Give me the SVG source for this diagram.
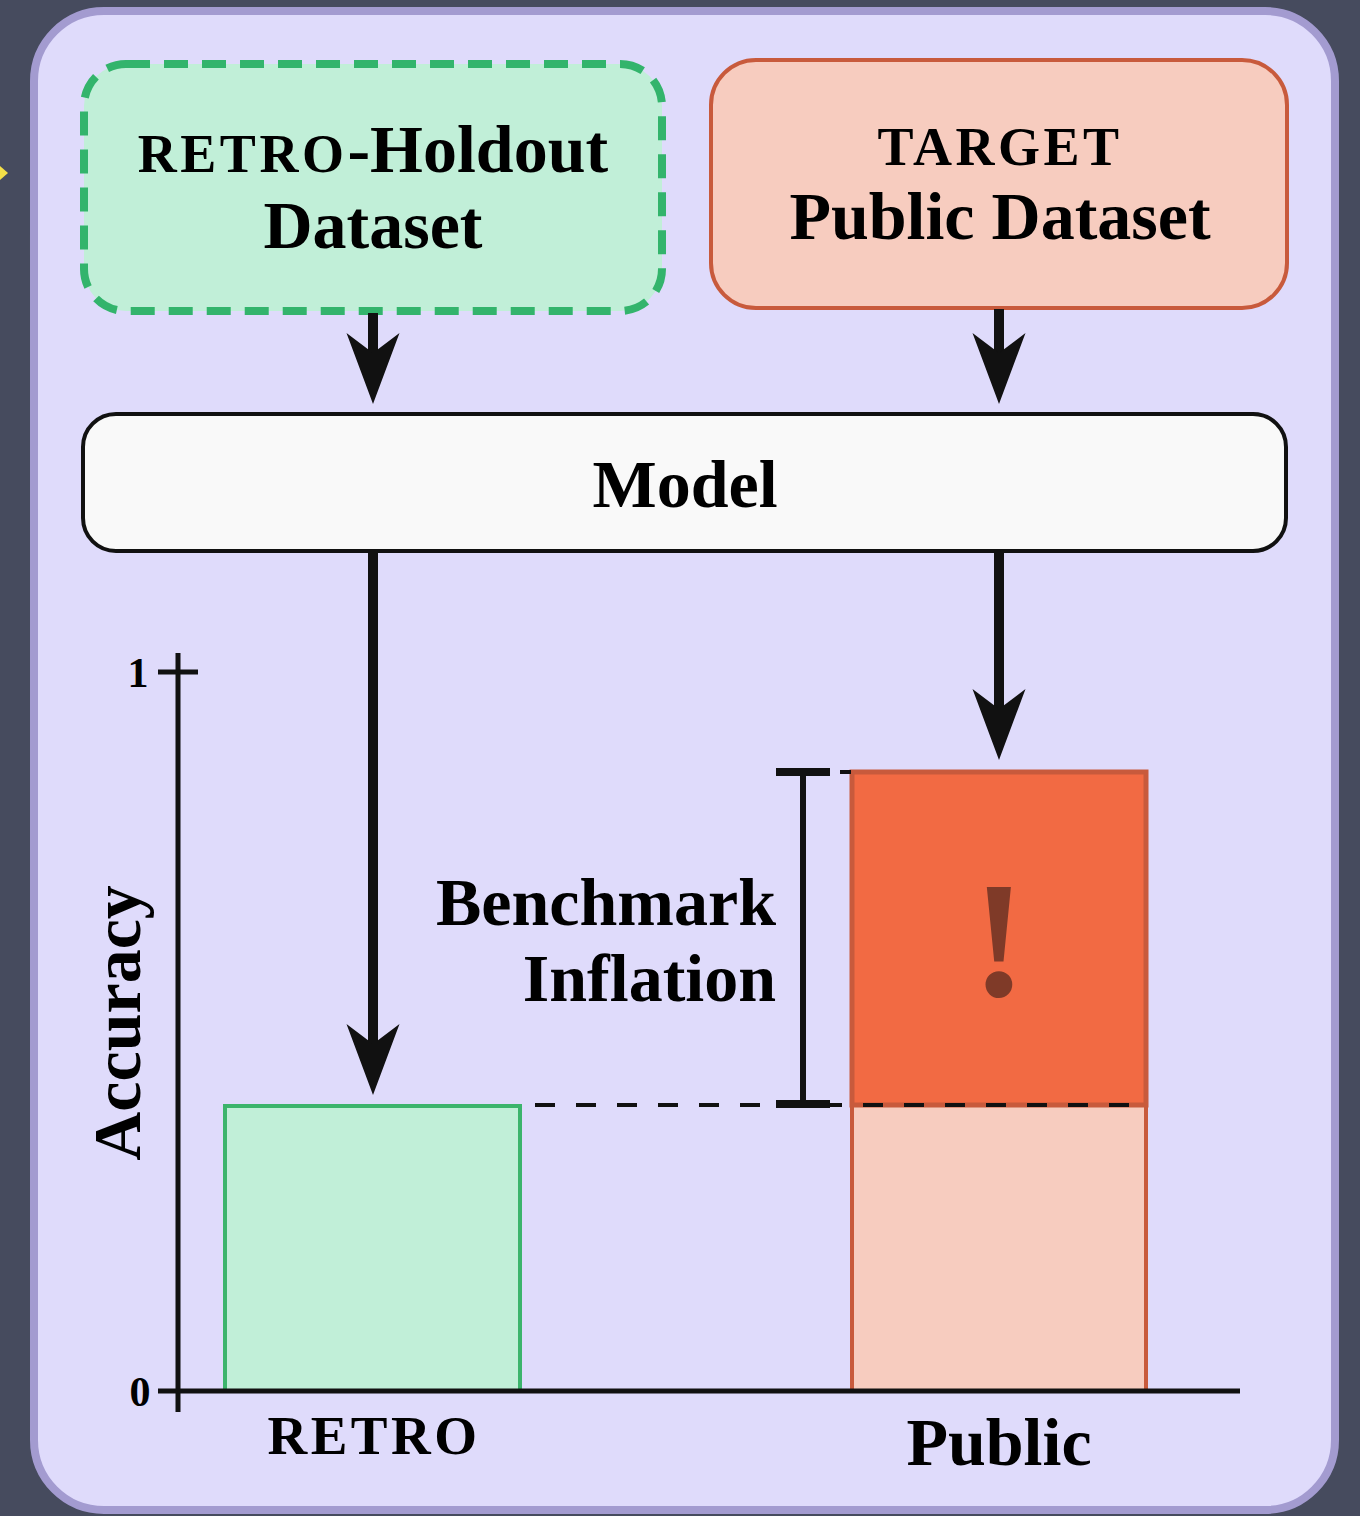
<svg xmlns="http://www.w3.org/2000/svg" width="1360" height="1516" viewBox="0 0 1360 1516">
<style>
.t{font-family:"Liberation Serif","Times New Roman",serif;font-weight:bold;fill:#000}
.big{font-size:68px}
.sc{font-size:54px;letter-spacing:3.5px}
.num{font-size:42px}
.conn{stroke:#111;stroke-width:10;fill:none}
.axis{stroke:#111;stroke-width:5;fill:none}
</style>
<defs>
<marker id="ah" markerUnits="userSpaceOnUse" viewBox="0 -27 72 54" markerWidth="72" markerHeight="54" refX="20" refY="0" orient="auto">
<path d="M71,0 L0,-26.5 L20,0 L0,26.5 Z" fill="#111"/>
</marker>
</defs>
<rect x="0" y="0" width="1360" height="1516" fill="#464b5e"/>
<polygon points="0,166 8,173 0,180" fill="#f5e048"/>
<rect x="34" y="11" width="1301" height="1499" rx="70" fill="#dfdbfb" stroke="#a39bd0" stroke-width="8"/>

<g id="retro-holdout">
<rect x="84" y="64" width="578" height="247" rx="42" fill="#c1efd8" stroke="#33b46c" stroke-width="8" stroke-dasharray="24 14"/>
<text class="t" x="373" y="172" text-anchor="middle"><tspan class="sc">RETRO</tspan><tspan class="big">-Holdout</tspan></text>
<text class="t big" x="373" y="248" text-anchor="middle">Dataset</text>
</g>

<g id="target-public">
<rect x="711" y="60" width="576" height="248" rx="45" fill="#f7ccbf" stroke="#c85a3c" stroke-width="4"/>
<text class="t sc" x="1000" y="165" text-anchor="middle">TARGET</text>
<text class="t big" x="1000" y="239" text-anchor="middle">Public Dataset</text>
</g>

<g id="model">
<rect x="83" y="414" width="1203" height="137" rx="33" fill="#f9f9f9" stroke="#111" stroke-width="4"/>
<text class="t big" x="685" y="507" text-anchor="middle">Model</text>
</g>

<g id="connectors">
<line class="conn" x1="373" y1="313" x2="373" y2="353" marker-end="url(#ah)"/>
<line class="conn" x1="999" y1="309" x2="999" y2="353" marker-end="url(#ah)"/>
<line class="conn" x1="373" y1="552" x2="373" y2="1044" marker-end="url(#ah)"/>
<line class="conn" x1="999" y1="552" x2="999" y2="709" marker-end="url(#ah)"/>
</g>

<g id="chart">
<line class="axis" x1="178" y1="653" x2="178" y2="1412"/>
<line class="axis" x1="158" y1="672" x2="198" y2="672"/>
<text class="t num" x="138" y="687" text-anchor="middle">1</text>
<text class="t num" x="140" y="1406" text-anchor="middle">0</text>
<text class="t big" transform="translate(140,1023) rotate(-90)" text-anchor="middle">Accuracy</text>
</g>

<g id="retro-bar">
<rect x="225" y="1106" width="295" height="285" fill="#c1efd8" stroke="#3cb46c" stroke-width="4"/>
<text class="t sc" x="374" y="1454" text-anchor="middle" style="font-size:55px">RETRO</text>
</g>

<g id="public-bar">
<rect x="852" y="1105" width="294" height="286" fill="#f7ccbf" stroke="#c85a3c" stroke-width="4"/>
<rect x="852" y="772" width="294" height="333" fill="#f26a43" stroke="#c85a3c" stroke-width="5"/>
<text class="t" x="999" y="996" text-anchor="middle" style="font-size:165px;fill:#7f3a28">!</text>
<text class="t big" x="999" y="1465" text-anchor="middle">Public</text>
</g>

<line class="axis" x1="158" y1="1391" x2="1240" y2="1391"/>

<g id="inflation">
<line x1="535" y1="1105" x2="1150" y2="1105" stroke="#111" stroke-width="4" stroke-dasharray="20 21"/>
<line x1="840" y1="772" x2="851" y2="772" stroke="#111" stroke-width="4"/>
<line x1="803" y1="772" x2="803" y2="1104" stroke="#111" stroke-width="6"/>
<line x1="776" y1="772" x2="830" y2="772" stroke="#111" stroke-width="8"/>
<line x1="776" y1="1104" x2="830" y2="1104" stroke="#111" stroke-width="8"/>
<text class="t big" x="776" y="925" text-anchor="end">Benchmark</text>
<text class="t big" x="776" y="1001" text-anchor="end">Inflation</text>
</g>
</svg>
